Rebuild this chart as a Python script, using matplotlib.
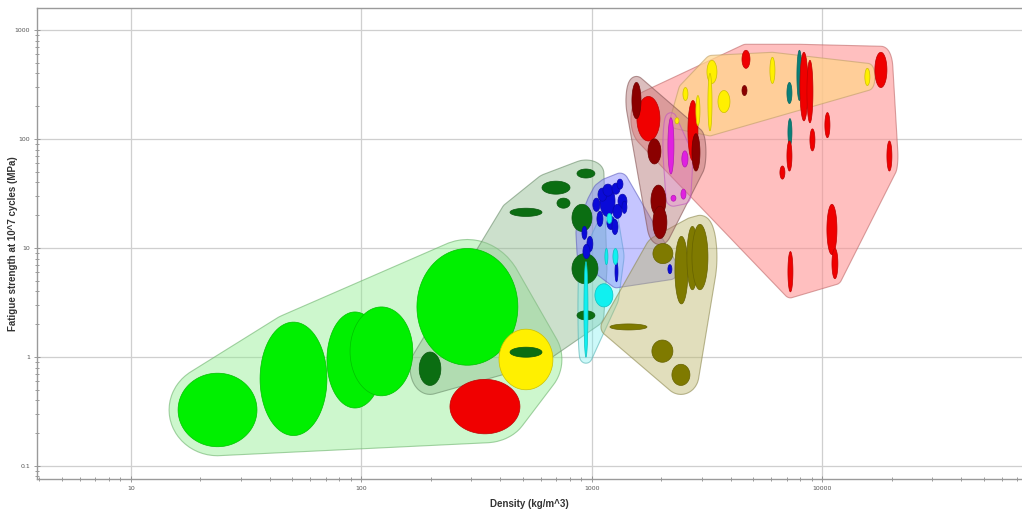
import numpy as np
import matplotlib
matplotlib.use("Agg")
import matplotlib.pyplot as plt
from matplotlib.patches import Polygon
from matplotlib.colors import to_rgb
from matplotlib.ticker import LogLocator, NullFormatter, FixedLocator, FixedFormatter

# Each bubble: (density low, density high [kg/m^3], fatigue strength low, high [MPa], kind)
foams = [
    (16.0, 35.2, 0.15, 0.71, "foam"),
    (36.3, 70.8, 0.19, 2.09, "foam"),
    (70.8, 124, 0.34, 2.59, "foam"),
    (89.2, 167, 0.44, 2.88, "foam"),
    (174, 477, 0.84, 9.9, "foam"),
    (242, 487, 0.197, 0.623, "rigid_foam"),
    (395, 677, 0.50, 1.80, "cork"),
]

natural = [
    (178, 221, 0.548, 1.11, "natural"),
    (441, 607, 0.995, 1.23, "natural"),
    (441, 607, 19.5, 23.2, "natural"),
    (607, 803, 31.2, 41.1, "natural"),
    (705, 803, 23.2, 28.7, "natural"),
    (861, 1030, 43.9, 53.1, "natural"),
    (819, 1000, 14.2, 25.2, "natural"),
    (819, 1062, 4.70, 8.89, "natural"),
    (861, 1030, 2.19, 2.65, "natural"),
]

polymers = [
    (1083, 1259, 19.5, 37.0, "polymer"),
    (1062, 1161, 26.9, 35.5, "polymer"),
    (1116, 1233, 29.9, 38.6, "polymer"),
    (1221, 1323, 31.2, 39.4, "polymer"),
    (1284, 1363, 34.7, 42.9, "polymer"),
    (1297, 1418, 23.2, 31.2, "polymer"),
    (1233, 1349, 18.7, 25.2, "polymer"),
    (1161, 1259, 14.8, 19.5, "polymer"),
    (1051, 1116, 15.8, 21.7, "polymer"),
    (1221, 1297, 13.3, 18.3, "polymer"),
    (1009, 1083, 21.7, 28.7, "polymer"),
    (1349, 1418, 20.8, 26.9, "polymer"),
    (905, 951, 12.0, 15.8, "polymer"),
    (951, 1009, 9.28, 12.8, "polymer"),
    (914, 980, 8.0, 10.8, "polymer"),
    (1259, 1297, 4.90, 7.50, "polymer"),
    (2136, 2223, 5.81, 7.04, "polymer"),
]

elastomers = [
    (1030, 1233, 2.88, 4.70, "elastomer"),
    (923, 961, 0.995, 7.50, "elastomer"),
    (1138, 1173, 7.04, 9.9, "elastomer"),
    (1233, 1297, 7.04, 9.9, "elastomer"),
    (1161, 1221, 16.8, 20.8, "elastomer"),
]

ceramics = [
    (1839, 2245, 7.19, 11.0, "ceramic"),
    (2291, 2609, 3.07, 12.8, "ceramic"),
    (2582, 2883, 4.14, 15.8, "ceramic"),
    (2716, 3186, 4.14, 16.5, "ceramic"),
    (1197, 1733, 1.77, 2.01, "ceramic"),
    (1820, 2245, 0.894, 1.43, "ceramic"),
    (2223, 2661, 0.548, 0.857, "ceramic"),
]

metals = [
    (7751, 8149, 226, 653, "alloy"),
    (7015, 7375, 212, 331, "alloy"),
    (7086, 7375, 86.6, 154, "alloy"),
    (1567, 1972, 96, 246, "metal"),
    (2609, 2883, 63.0, 226, "metal"),
    (4477, 4849, 446, 653, "metal"),
    (7987, 8653, 147, 626, "metal"),
    (8567, 9096, 141, 528, "metal"),
    (16890, 19050, 297, 626, "metal"),
    (10250, 10780, 103, 175, "metal"),
    (8827, 9279, 77.9, 124, "metal"),
    (19050, 20020, 50.9, 96, "metal"),
    (6540, 6875, 42.9, 56.6, "metal"),
    (7015, 7375, 50.9, 96, "metal"),
    (10460, 11560, 8.71, 25.2, "metal"),
    (11000, 11670, 5.23, 9.9, "metal"),
    (7086, 7447, 3.96, 9.28, "metal"),
    (4477, 4706, 251, 310, "technical"),
]

precious = [
    (3155, 3486, 324, 528, "precious"),
    (3186, 3318, 119, 401, "precious"),
    (3522, 3970, 175, 279, "precious"),
    (5918, 6223, 324, 563, "precious"),
    (15280, 16070, 310, 446, "precious"),
    (2482, 2609, 226, 297, "precious"),
    (2291, 2385, 138, 157, "precious"),
    (2825, 2942, 133, 251, "precious"),
]

technical = [
    (1491, 1632, 154, 331, "technical"),
    (1750, 1991, 59.1, 100.5, "technical"),
    (1803, 2094, 19.5, 37.8, "technical"),
    (1839, 2114, 12.2, 24.2, "technical"),
    (2716, 2942, 50.9, 112, "technical"),
]

composites = [
    (2136, 2268, 47.8, 157, "composite"),
    (2455, 2609, 55.4, 77.9, "composite"),
    (2203, 2314, 26.9, 30.5, "composite"),
    (2433, 2558, 28.1, 34.7, "composite"),
]

x_ticks = [10, 100, 1000, 10000]
x_tick_labels = ["10", "100", "1000", "10000"]
y_ticks = [0.1, 1, 10, 100, 1000]
y_tick_labels = ["0.1", "1", "10", "100", "1000"]

# ---- styling ----
KIND_COLOURS = {
    "foam": "#00F000",
    "rigid_foam": "#F00000",
    "cork": "#FFF000",
    "natural": "#0B6E12",
    "polymer": "#0A0AD8",
    "elastomer": "#10F0F0",
    "ceramic": "#7F7A00",
    "metal": "#F00000",
    "alloy": "#0A7F78",
    "precious": "#FFF000",
    "technical": "#8B0000",
    "composite": "#E020E0",
}

# group, envelope fill, alpha, padding (px)
ENVELOPES = [
    (foams, "#90EE90", 0.45, 9),
    (natural, "#8FBC8F", 0.45, 9),
    (elastomers, "#70F0F0", 0.35, 6),
    (polymers, "#8080FF", 0.45, 6),
    (ceramics, "#BDB76B", 0.45, 9),
    (metals, "#FF8C8C", 0.55, 6),
    (precious, "#FFD58A", 0.7, 5),
    (technical, "#B07070", 0.45, 6),
    (composites, "#FF70FF", 0.18, 5),
]
BUBBLE_ORDER = [foams, natural, polymers, elastomers, ceramics, metals,
                precious, technical, composites]

W, H = 1022, 512
fig = plt.figure(figsize=(W / 100, H / 100), dpi=100)
ax = fig.add_axes([37 / W, (H - 479) / H, (W - 37) / W, (479 - 8) / H])
ax.set_xscale("log")
ax.set_yscale("log")
ax.set_xlim(10 ** 0.592, 10 ** 4.866)
ax.set_ylim(10 ** -1.12, 10 ** 3.203)


def ellipse_points(b, n=90):
    x0, x1, y0, y1 = np.log10(b[:4])
    t = np.linspace(0, 2 * np.pi, n, endpoint=False)
    cx, cy = (x0 + x1) / 2, (y0 + y1) / 2
    rx, ry = (x1 - x0) / 2, (y1 - y0) / 2
    return np.column_stack([10 ** (cx + rx * np.cos(t)), 10 ** (cy + ry * np.sin(t))])


def convex_hull(pts):
    pts = sorted(set(map(tuple, np.round(pts, 3))))
    if len(pts) < 3:
        return np.array(pts)

    def cross(o, a, b):
        return (a[0] - o[0]) * (b[1] - o[1]) - (a[1] - o[1]) * (b[0] - o[0])

    lower, upper = [], []
    for p in pts:
        while len(lower) >= 2 and cross(lower[-2], lower[-1], p) <= 0:
            lower.pop()
        lower.append(p)
    for p in reversed(pts):
        while len(upper) >= 2 and cross(upper[-2], upper[-1], p) <= 0:
            upper.pop()
        upper.append(p)
    return np.array(lower[:-1] + upper[:-1])


def envelope_outline(bubbles, pad):
    disp = np.vstack([ax.transData.transform(ellipse_points(b, 60)) for b in bubbles])
    hull = convex_hull(disp)
    t = np.linspace(0, 2 * np.pi, 32, endpoint=False)
    circ = pad * np.column_stack([np.cos(t), np.sin(t)])
    grown = (hull[:, None, :] + circ[None, :, :]).reshape(-1, 2)
    outline = convex_hull(grown)
    return ax.transData.inverted().transform(outline)


def darker(c, f=0.7):
    r, g, b = to_rgb(c)
    return (r * f, g * f, b * f)


for group, fill, alpha, pad in ENVELOPES:
    xy = envelope_outline(group, pad)
    ax.add_patch(Polygon(xy, closed=True, facecolor=fill, alpha=alpha,
                         edgecolor="none", zorder=2))
    ax.add_patch(Polygon(xy, closed=True, facecolor="none",
                         edgecolor=darker(fill, 0.75), alpha=0.6, lw=0.8, zorder=2))

for group in BUBBLE_ORDER:
    for b in group:
        col = KIND_COLOURS[b[4]]
        ax.add_patch(Polygon(ellipse_points(b), closed=True, facecolor=col,
                             edgecolor=darker(col, 0.8), lw=0.5, zorder=3))

# axes cosmetics
ax.xaxis.set_major_locator(FixedLocator(x_ticks))
ax.xaxis.set_major_formatter(FixedFormatter(x_tick_labels))
ax.yaxis.set_major_locator(FixedLocator(y_ticks))
ax.yaxis.set_major_formatter(FixedFormatter(y_tick_labels))
ax.xaxis.set_minor_locator(LogLocator(base=10, subs=np.arange(2, 10)))
ax.yaxis.set_minor_locator(LogLocator(base=10, subs=np.arange(2, 10)))
ax.xaxis.set_minor_formatter(NullFormatter())
ax.yaxis.set_minor_formatter(NullFormatter())
ax.grid(True, which="major", color="#CFCFCF", lw=0.9, zorder=0)
ax.set_axisbelow(True)
ax.tick_params(which="both", direction="inout", colors="#8A8A8A",
               labelcolor="#555555", labelsize=4.5, width=0.6)
ax.tick_params(which="major", length=4, pad=3)
ax.tick_params(which="minor", length=2.5)
for side in ("left", "bottom", "top"):
    ax.spines[side].set_color("#9A9A9A")
    ax.spines[side].set_linewidth(1.0)
ax.spines["right"].set_visible(False)

label_font = dict(family=["Liberation Sans", "DejaVu Sans"], weight="bold",
                  size=7, color="#333333")
ax.set_xlabel("Density (kg/m^3)", labelpad=6, **label_font)
ax.set_ylabel("Fatigue strength at 10^7 cycles (MPa)", **label_font)
ax.yaxis.set_label_coords(-0.0195, 0.5)

fig.savefig("out.png", dpi=100)
